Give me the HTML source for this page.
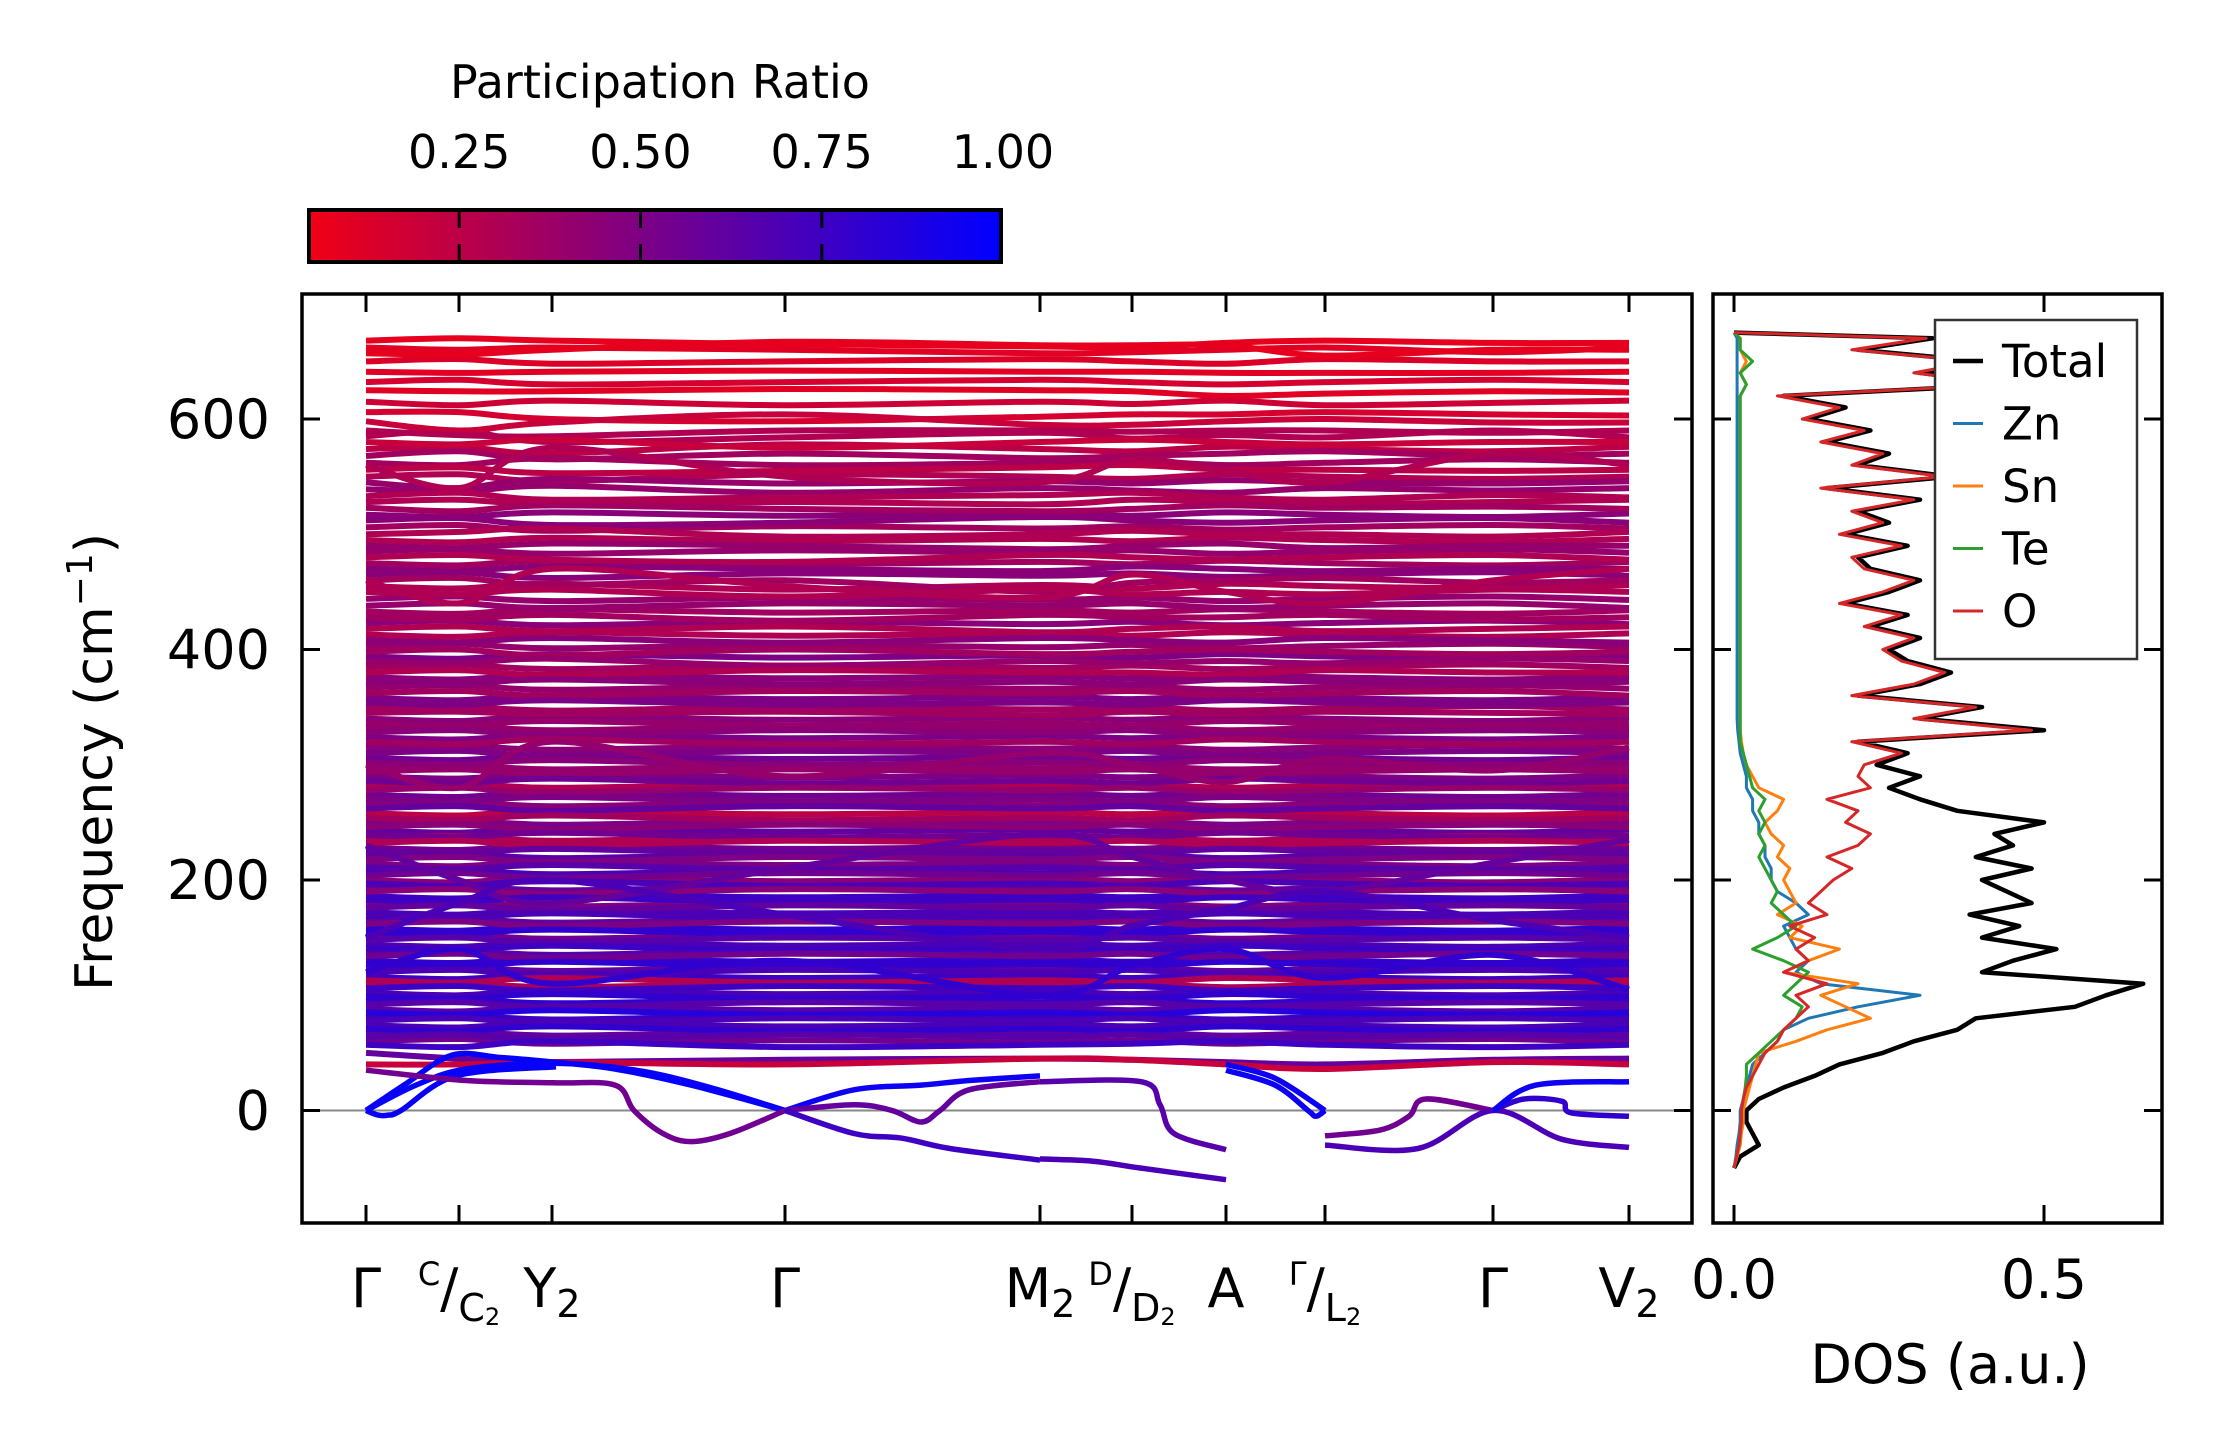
<!DOCTYPE html>
<html><head><meta charset="utf-8"><style>
html,body{margin:0;padding:0;background:#fff;}
svg{display:block;font-family:"DejaVu Sans","Liberation Sans",sans-serif;}
</style></head><body>
<svg id="fig" width="2222" height="1455" viewBox="0 0 2222 1455" xmlns="http://www.w3.org/2000/svg">
<defs>
<linearGradient id="cbg" x1="0" x2="1" y1="0" y2="0">
<stop offset="0" stop-color="rgb(240,0,20)"/><stop offset="1" stop-color="rgb(0,0,255)"/>
</linearGradient>
<clipPath id="clipMain"><rect x="302" y="294" width="1390" height="929"/></clipPath>
<clipPath id="clipDos"><rect x="1713" y="294" width="449" height="929"/></clipPath>
</defs>
<g id="colorbar"></g>
<g id="bands" clip-path="url(#clipMain)"></g>
<g id="mainaxes"></g>
<g id="dos" clip-path="url(#clipDos)"></g>
<g id="dosaxes"></g>
<g id="legend"></g>
</svg>
<script>
const kNodes=[0,0.93,1.86,4.19,6.74,7.66,8.60,9.59,11.27,12.63];
const kLabels=["Γ","C/C2","Y2","Γ","M2","D/D2","A","Γ/L2","Γ","V2"];
const yTicks=[0,200,400,600];
const cbTicks=[0.25,0.5,0.75,1.0];
const cbTickLabels=["0.25","0.50","0.75","1.00"];
const bandFreqs=[
[668,670,668,665,663,662,666,668,666,666],[657,656,660,667,664,664,664,655,660,660],
[641,640,641,642,641,641,640,640,640,641],[625,624,624,626,625,624,620,622,624,623],
[606,606,600,598,602,604,604,606,604,603],[598,590,597,604,595,595,598,600,597,597],
[590,586,585,590,590,589,590,590,588,590],[580,578,582,575,580,582,580,578,580,580],
[568,572,565,570,566,568,570,572,568,570],[556,558,553,555,558,560,556,556,555,556],
[545,540,548,544,546,544,547,545,544,546],[533,536,530,532,534,536,532,530,534,532],
[523,520,525,522,520,522,525,523,524,522],[512,514,508,510,515,512,510,512,514,510],
[500,502,505,498,500,503,500,500,498,502],[490,488,492,490,487,490,492,488,490,490],
[480,482,478,476,482,480,478,480,482,478],[470,468,472,470,468,472,470,468,470,470],
[460,462,456,460,450,458,460,462,458,460],[450,448,452,446,452,448,450,448,452,450],
[438,440,436,440,438,440,436,438,440,436],[428,426,430,425,430,428,428,430,426,428],
[418,420,416,420,415,418,420,416,418,420],[408,406,410,406,410,408,406,410,408,406],
[398,400,395,400,396,398,400,398,396,398],[390,388,392,386,390,388,390,388,392,390],
[380,382,378,382,380,380,378,382,380,380],[372,370,374,370,372,370,374,372,370,372],
[362,364,360,364,362,364,360,362,364,360],[354,352,356,352,354,352,356,354,352,354],
[345,346,344,346,343,346,344,346,345,344],[336,334,338,334,336,334,338,336,334,336],
[328,330,326,330,328,330,326,328,330,328],[320,318,322,318,320,318,322,320,318,320],
[310,312,308,312,310,312,308,310,312,310],[302,300,304,300,302,300,304,302,300,302],
[294,296,292,296,294,296,292,294,296,294],[286,284,288,284,286,284,288,286,284,286],
[278,280,276,280,278,280,276,278,280,278],[270,268,272,268,270,268,272,270,268,270],
[262,264,260,264,262,264,260,262,264,262],[254,252,256,252,254,252,256,254,252,254],
[246,248,244,248,246,248,244,246,248,246],[239,237,241,237,239,237,241,239,237,239],
[232,234,230,234,232,234,230,232,234,232],[225,223,227,223,225,223,227,225,223,225],
[218,220,216,220,218,220,216,218,220,218],[211,209,213,209,211,209,213,211,209,211],
[204,206,202,206,204,206,202,204,206,204],[197,195,199,195,197,195,199,197,195,197],
[190,192,188,192,190,192,188,190,192,190],[183,181,185,181,183,181,185,183,181,183],
[176,178,174,178,176,178,174,176,178,176],[169,167,171,167,169,167,171,169,167,169],
[162,164,160,164,162,164,160,162,164,162],[155,153,157,153,155,153,157,155,153,155],
[148,150,146,150,148,150,146,148,150,148],[141,139,143,139,141,139,143,141,139,141],
[134,136,132,136,134,136,132,134,136,134],[127,125,129,125,127,125,129,127,125,127],
[120,122,118,122,120,122,118,120,122,120],[113,111,115,111,113,111,115,113,111,113],
[106,108,104,108,106,108,104,106,108,106],[99,97,101,97,99,97,101,99,97,99],
[92,94,90,94,92,94,90,92,94,92],[85,83,87,83,85,83,87,85,83,85],
[78,80,76,80,78,80,76,78,80,78],[71,69,73,69,71,69,73,71,69,71],
[64,66,62,66,64,66,62,64,66,64],[57,55,60,55,57,58,60,57,55,57],
[50,45,42,44,45,44,42,40,44,45],[40,40,42,40,45,44,40,36,42,40],
[230,200,180,210,240,220,200,190,215,235],[150,180,200,170,140,160,175,190,165,150],
[300,280,320,290,310,300,285,305,295,315],[460,440,470,455,445,465,450,440,460,470],
[120,140,110,130,100,125,140,115,135,105],[560,540,575,550,545,565,555,545,570,560]
];
const bandPR=[.08,.08,.1,.1,.15,.2,.3,.2,.35,.25,.4,.3,.35,.45,.3,.4,.3,.45,.35,.3,.4,.35,.3,.45,.35,.4,.3,.45,.35,.5,.35,.4,.45,.35,.5,.45,.4,.55,.4,.5,.6,.35,.45,.55,.3,.6,.5,.65,.55,.7,.45,.75,.6,.7,.5,.8,.65,.75,.55,.8,.7,.3,.75,.8,.65,.85,.7,.8,.65,.75,.6,.2,.6,.7,.4,.3,.8,.3];
const bandFreqs2=[
[662,660,662,660,657,658,660,662,658,662],[650,652,648,650,652,650,648,652,650,650],
[632,634,630,632,634,632,630,632,634,632],[615,612,616,612,615,613,616,612,614,616],
[585,590,580,584,588,583,586,584,590,584],[574,576,570,578,574,572,576,574,572,576],
[562,560,566,560,562,564,560,562,565,562],[550,552,546,552,550,548,552,550,548,550],
[539,537,542,536,540,538,536,540,538,540],[528,530,526,528,526,530,528,526,528,530],
[517,515,519,516,518,516,519,517,515,518],[506,508,503,507,505,507,504,506,508,505],
[495,493,497,494,496,494,497,495,493,496],[485,487,483,486,484,486,483,485,487,484],
[475,473,477,474,476,474,477,475,473,476],[465,467,462,466,464,466,463,465,467,464],
[455,453,457,452,456,453,457,455,453,456],[444,446,442,445,443,445,442,444,446,443],
[433,431,435,432,434,432,435,433,431,434],[423,425,421,424,422,424,421,423,425,422],
[413,411,415,412,414,412,415,413,411,414],[403,405,401,404,402,404,401,403,405,402],
[394,392,396,393,395,393,396,394,392,395],[385,387,383,386,384,386,383,385,387,384],
[376,374,378,375,377,375,378,376,374,377],[367,369,365,368,366,368,365,367,369,366],
[358,356,360,357,359,357,360,358,356,359],[349,351,347,350,348,350,347,349,351,348],
[340,338,342,339,341,339,342,340,338,341],[332,334,330,333,331,333,330,332,334,331],
[324,322,326,323,325,323,326,324,322,325],[315,317,313,316,314,316,313,315,317,314],
[306,304,308,305,307,305,308,306,304,307],[298,300,296,299,297,299,296,298,300,297],
[290,288,292,289,291,289,292,290,288,291],[282,284,280,283,281,283,280,282,284,281],
[274,272,276,273,275,273,276,274,272,275],[266,268,264,267,265,267,264,266,268,265],
[258,256,260,257,259,257,260,258,256,259],[250,252,248,251,249,251,248,250,252,249],
[243,241,245,242,244,242,245,243,241,244],[236,238,234,237,235,237,234,236,238,235],
[228,226,230,227,229,227,230,228,226,229],[221,223,219,222,220,222,219,221,223,220],
[214,212,216,213,215,213,216,214,212,215],[207,209,205,208,206,208,205,207,209,206],
[200,198,202,199,201,199,202,200,198,201],[193,195,191,194,192,194,191,193,195,192],
[186,184,188,185,187,185,188,186,184,187],[179,181,177,180,178,180,177,179,181,178],
[172,170,174,171,173,171,174,172,170,173],[165,167,163,166,164,166,163,165,167,164],
[158,156,160,157,159,157,160,158,156,159],[151,153,149,152,150,152,149,151,153,150],
[144,142,146,143,145,143,146,144,142,145],[137,139,135,138,136,138,135,137,139,136],
[130,128,132,129,131,129,132,130,128,131],[123,125,121,124,122,124,121,123,125,122],
[116,114,118,115,117,115,118,116,114,117],[109,111,107,110,108,110,107,109,111,108],
[102,100,104,101,103,101,104,102,100,103],[95,97,93,96,94,96,93,95,97,94],
[88,86,90,87,89,87,90,88,86,89],[81,83,79,82,80,82,79,81,83,80],
[74,72,76,73,75,73,76,74,72,75],[67,69,65,68,66,68,65,67,69,66],
[60,62,58,61,59,61,58,60,62,59]
];
const bandPR2=[.1,.12,.15,.18,.3,.25,.35,.3,.4,.3,.45,.35,.3,.4,.35,.45,.3,.4,.35,.45,.3,.4,.5,.35,.45,.4,.5,.35,.45,.4,.5,.45,.55,.4,.5,.3,.55,.45,.25,.5,.6,.3,.55,.65,.5,.7,.45,.6,.75,.5,.7,.6,.8,.55,.7,.65,.8,.6,.75,.3,.7,.8,.65,.75,.7,.6,.55];
const lowK=[
[0,0.38,0.86,1.34,1.87,2.49,3.25,4.19],
[0,0.5,1.0,1.87,2.7,3.44,4.19],
[0,0.12,0.22,0.35,0.9,1.9],
[0,1.0,1.87,2.49,2.68,2.97,3.25,3.64,4.19],
[4.19,4.88,5.55,6.03,6.74],
[4.19,4.88,5.26,5.55,5.74,6.03,6.74],
[4.19,4.88,5.36,5.84,6.74],
[6.74,7.27,7.75,8.60],
[6.74,7.75,7.94,8.08,8.60],
[8.60,9.09,9.42,9.5,9.59],
[8.60,9.09,9.59],
[9.59,10.14,10.43,10.6,11.27],
[9.59,10.52,11.27,11.96,12.63],
[11.27,11.58,11.96,12.05,12.63],
[11.27,11.7,12.63]];
const lowF=[
[0,22,48,46,42,36,22,0],
[0,22,36,41,35,20,0],
[0,-4,-4,0,30,38],
[35,26,24,22,0,-20,-27,-20,0],
[0,18,22,26,30],
[0,5,0,-10,0,18,25],
[0,-20,-24,-33,-43],
[-42,-44,-50,-60],
[25,25,5,-20,-34],
[35,22,0,-5,0],
[40,28,0],
[-22,-17,-5,10,0],
[-30,-33,0,-25,-32],
[0,10,8,-2,-5],
[0,22,25]];
const lowPR=[0.98,0.97,0.97,0.55,0.95,0.6,0.75,0.7,0.65,0.95,0.95,0.55,0.7,0.8,0.95];
const dosFreq=[-50,-40,-30,-20,-10,0,10,20,30,40,50,60,70,80,90,100,110,120,130,140,150,160,170,180,190,200,210,220,230,240,250,260,270,280,290,300,310,320,330,340,350,360,370,380,390,400,410,420,430,440,450,460,470,480,490,500,510,520,530,540,550,560,570,580,590,600,610,620,630,640,650,660,670,675];
const dosTotal=[0,0.01,0.04,0.03,0.02,0.02,0.04,0.08,0.13,0.17,0.24,0.29,0.36,0.39,0.55,0.60,0.66,0.40,0.45,0.52,0.40,0.46,0.38,0.48,0.44,0.40,0.48,0.39,0.45,0.42,0.50,0.36,0.30,0.25,0.30,0.23,0.28,0.20,0.50,0.30,0.40,0.20,0.30,0.35,0.28,0.25,0.30,0.22,0.28,0.18,0.25,0.30,0.22,0.20,0.28,0.18,0.25,0.20,0.30,0.15,0.35,0.20,0.25,0.15,0.22,0.12,0.18,0.08,0.45,0.30,0.40,0.20,0.32,0.0];
const dosZn=[0,0.003,0.005,0.008,0.01,0.01,0.015,0.02,0.025,0.03,0.05,0.07,0.08,0.12,0.2,0.3,0.14,0.1,0.12,0.1,0.09,0.08,0.12,0.1,0.07,0.06,0.06,0.05,0.05,0.04,0.04,0.03,0.03,0.02,0.02,0.015,0.01,0.008,0.006,0.005,0.005,0.005,0.005,0.005,0.005,0.005,0.005,0.005,0.005,0.005,0.005,0.005,0.005,0.005,0.005,0.005,0.005,0.005,0.005,0.005,0.005,0.005,0.005,0.005,0.005,0.005,0.005,0.005,0.005,0.005,0.005,0.005,0.005,0];
const dosSn=[0,0.005,0.01,0.012,0.015,0.015,0.02,0.025,0.03,0.035,0.04,0.1,0.15,0.22,0.18,0.14,0.2,0.08,0.12,0.17,0.09,0.11,0.07,0.1,0.09,0.08,0.09,0.07,0.08,0.06,0.05,0.07,0.08,0.04,0.03,0.02,0.015,0.012,0.01,0.01,0.01,0.01,0.01,0.01,0.01,0.01,0.01,0.01,0.01,0.01,0.01,0.01,0.01,0.01,0.01,0.01,0.01,0.01,0.01,0.01,0.01,0.01,0.01,0.01,0.01,0.01,0.01,0.01,0.02,0.01,0.02,0.01,0.01,0];
const dosTe=[0,0.004,0.008,0.01,0.012,0.012,0.015,0.018,0.02,0.02,0.04,0.06,0.08,0.1,0.11,0.08,0.1,0.12,0.08,0.03,0.07,0.1,0.08,0.06,0.07,0.06,0.05,0.04,0.05,0.04,0.05,0.04,0.05,0.03,0.025,0.02,0.015,0.01,0.01,0.01,0.01,0.01,0.01,0.01,0.01,0.01,0.01,0.01,0.01,0.01,0.01,0.01,0.01,0.01,0.01,0.01,0.01,0.01,0.01,0.01,0.01,0.01,0.01,0.01,0.01,0.01,0.01,0.01,0.02,0.01,0.03,0.01,0.01,0];
const dosO=[0,0.004,0.008,0.01,0.012,0.012,0.015,0.02,0.03,0.04,0.05,0.07,0.08,0.10,0.12,0.10,0.15,0.08,0.12,0.10,0.13,0.09,0.15,0.12,0.14,0.16,0.19,0.15,0.20,0.22,0.18,0.20,0.15,0.22,0.20,0.21,0.27,0.19,0.48,0.29,0.39,0.19,0.29,0.34,0.27,0.24,0.29,0.21,0.27,0.17,0.24,0.29,0.21,0.19,0.27,0.17,0.24,0.19,0.29,0.14,0.34,0.19,0.24,0.14,0.21,0.11,0.17,0.07,0.44,0.29,0.39,0.19,0.31,0];
const dosTicks=[0,0.5];
const legendNames=["Total","Zn","Sn","Te","O"];
const legendColors=["#000000","#1f77b4","#ff7f0e","#2ca02c","#d62728"];

const NS="http://www.w3.org/2000/svg";
function mk(tag,attrs,parent){const e=document.createElementNS(NS,tag);for(const a in attrs)e.setAttribute(a,attrs[a]);parent.appendChild(e);return e;}
const X0=366, KPX=100;
function xk(k){return X0+k*KPX;}
function yf(f){return 1110.5-f*1.1525;}
function xd(d){return 1734+d*620;}
function xcb(v){return 307+(v-0.04)/0.96*696;}
function prColor(p){const t=Math.max(0,Math.min(1,(p-0.04)/0.96));return `rgb(${Math.round(240*(1-t))},0,${Math.round(20+235*t)})`;}
function smooth(pts){let d=`M${pts[0][0].toFixed(1)},${pts[0][1].toFixed(1)}`;
 for(let i=0;i<pts.length-1;i++){const p0=pts[Math.max(0,i-1)],p1=pts[i],p2=pts[i+1],p3=pts[Math.min(pts.length-1,i+2)];
  const c1x=p1[0]+(p2[0]-p0[0])/6,c1y=p1[1]+(p2[1]-p0[1])/6,c2x=p2[0]-(p3[0]-p1[0])/6,c2y=p2[1]-(p3[1]-p1[1])/6;
  d+=` C${c1x.toFixed(1)},${c1y.toFixed(1)} ${c2x.toFixed(1)},${c2y.toFixed(1)} ${p2[0].toFixed(1)},${p2[1].toFixed(1)}`;}
 return d;}
function poly(pts){return pts.map((p,i)=>(i?'L':'M')+p[0].toFixed(1)+','+p[1].toFixed(1)).join(' ');}

// colorbar
const cb=document.getElementById('colorbar');
const cbt=mk('text',{x:660,y:98,'font-size':46,'text-anchor':'middle'},cb);cbt.textContent='Participation Ratio';


const cbr=mk('rect',{x:309,y:210,width:692,height:52,fill:'url(#cbg)',stroke:'#000','stroke-width':4},cb);


cbTicks.forEach((v,i)=>{const x=xcb(v);
 if(v<1){mk('line',{x1:x,x2:x,y1:210,y2:228,stroke:'#000','stroke-width':3},cb);mk('line',{x1:x,x2:x,y1:244,y2:262,stroke:'#000','stroke-width':3},cb);}
 const t=mk('text',{x:x,y:168,'font-size':46,'text-anchor':'middle'},cb);t.textContent=cbTickLabels[i];
 
 });

// bands
const bg=document.getElementById('bands');
const zl=mk('line',{x1:302,x2:1692,y1:yf(0),y2:yf(0),stroke:'#888','stroke-width':2},bg);


function drawBand(fr,pr){const pts=fr.map((f,j)=>[xk(kNodes[j]),yf(f)]);
 const p=mk('path',{d:smooth(pts),fill:'none',stroke:prColor(pr),'stroke-width':6},bg);
 
 }
bandFreqs2.forEach((fr,i)=>drawBand(fr,bandPR2[i]));
bandFreqs.forEach((fr,i)=>drawBand(fr,bandPR[i]));
lowK.forEach((ks,i)=>{const pts=ks.map((k,j)=>[xk(k),yf(lowF[i][j])]);
 const p=mk('path',{d:smooth(pts),fill:'none',stroke:prColor(lowPR[i]),'stroke-width':5.5},bg);
 
 });

// main axes
const ma=document.getElementById('mainaxes');
const fr=mk('rect',{x:302,y:294,width:1390,height:929,fill:'none',stroke:'#000','stroke-width':3.5},ma);


kNodes.forEach((k,i)=>{const x=xk(k);
 mk('line',{x1:x,x2:x,y1:294,y2:312,stroke:'#000','stroke-width':3},ma);
 mk('line',{x1:x,x2:x,y1:1205,y2:1223,stroke:'#000','stroke-width':3},ma);
 const lab=kLabels[i];const t=mk('text',{x:x,y:1307,'font-size':54,'text-anchor':'middle'},ma);
 
 
 if(lab.includes('/')){const [a,b]=lab.split('/');const bl=b[0],bs=b.slice(1);
  t.innerHTML=`<tspan font-size="32" dy="-22">${a}</tspan><tspan dy="22">/</tspan><tspan font-size="38" dy="14">${bl}</tspan><tspan font-size="24" dy="4">${bs}</tspan>`;}
 else if(lab.length>1&&/\d/.test(lab)){t.innerHTML=`${lab[0]}<tspan font-size="38" dy="10">${lab.slice(1)}</tspan>`;}
 else t.textContent=lab;});
yTicks.forEach(v=>{const y=yf(v);
 mk('line',{x1:302,x2:320,y1:y,y2:y,stroke:'#000','stroke-width':3},ma);
 mk('line',{x1:1674,x2:1692,y1:y,y2:y,stroke:'#000','stroke-width':3},ma);
 const t=mk('text',{x:270,y:y+19,'font-size':54,'text-anchor':'end'},ma);t.textContent=v;
 
 });
const yl=mk('text',{x:0,y:0,'font-size':52,'text-anchor':'middle',transform:'translate(112,762) rotate(-90)'},ma);
yl.innerHTML='Frequency (cm<tspan font-size="36" dy="-20">−1</tspan><tspan dy="20">)</tspan>';



// DOS
const dg=document.getElementById('dos');
[[dosTotal,0],[dosZn,1],[dosSn,2],[dosTe,3],[dosO,4]].forEach(([arr,ci])=>{
 const pts=arr.map((d,j)=>[xd(d),yf(dosFreq[j])]);
 const p=mk('path',{d:poly(pts),fill:'none',stroke:legendColors[ci],'stroke-width':ci===0?4.5:3,'stroke-linejoin':'round'},dg);
 
 });
const da=document.getElementById('dosaxes');
const df=mk('rect',{x:1713,y:294,width:449,height:929,fill:'none',stroke:'#000','stroke-width':3.5},da);


dosTicks.forEach(v=>{const x=xd(v);
 mk('line',{x1:x,x2:x,y1:294,y2:312,stroke:'#000','stroke-width':3},da);
 mk('line',{x1:x,x2:x,y1:1205,y2:1223,stroke:'#000','stroke-width':3},da);
 const t=mk('text',{x:x,y:1298,'font-size':54,'text-anchor':'middle'},da);t.textContent=v.toFixed(1);
 
 });
yTicks.forEach(v=>{const y=yf(v);
 mk('line',{x1:1713,x2:1731,y1:y,y2:y,stroke:'#000','stroke-width':3},da);
 mk('line',{x1:2144,x2:2162,y1:y,y2:y,stroke:'#000','stroke-width':3},da);});
const dl=mk('text',{x:1950,y:1383,'font-size':54,'text-anchor':'middle'},da);dl.textContent='DOS (a.u.)';



// legend
const lg=document.getElementById('legend');
const lb=mk('rect',{x:1935,y:320,width:202,height:339,fill:'#fff',stroke:'#333','stroke-width':2.5},lg);


legendNames.forEach((n,i)=>{const y=361+i*62.5;
 const g=mk('g',{},lg);
 
 
 mk('line',{x1:1953,x2:1983,y1:y,y2:y,stroke:legendColors[i],'stroke-width':i===0?4.5:3},g);
 const t=mk('text',{x:2002,y:y+16,'font-size':45},g);t.textContent=n;});
</script>
</body></html>
